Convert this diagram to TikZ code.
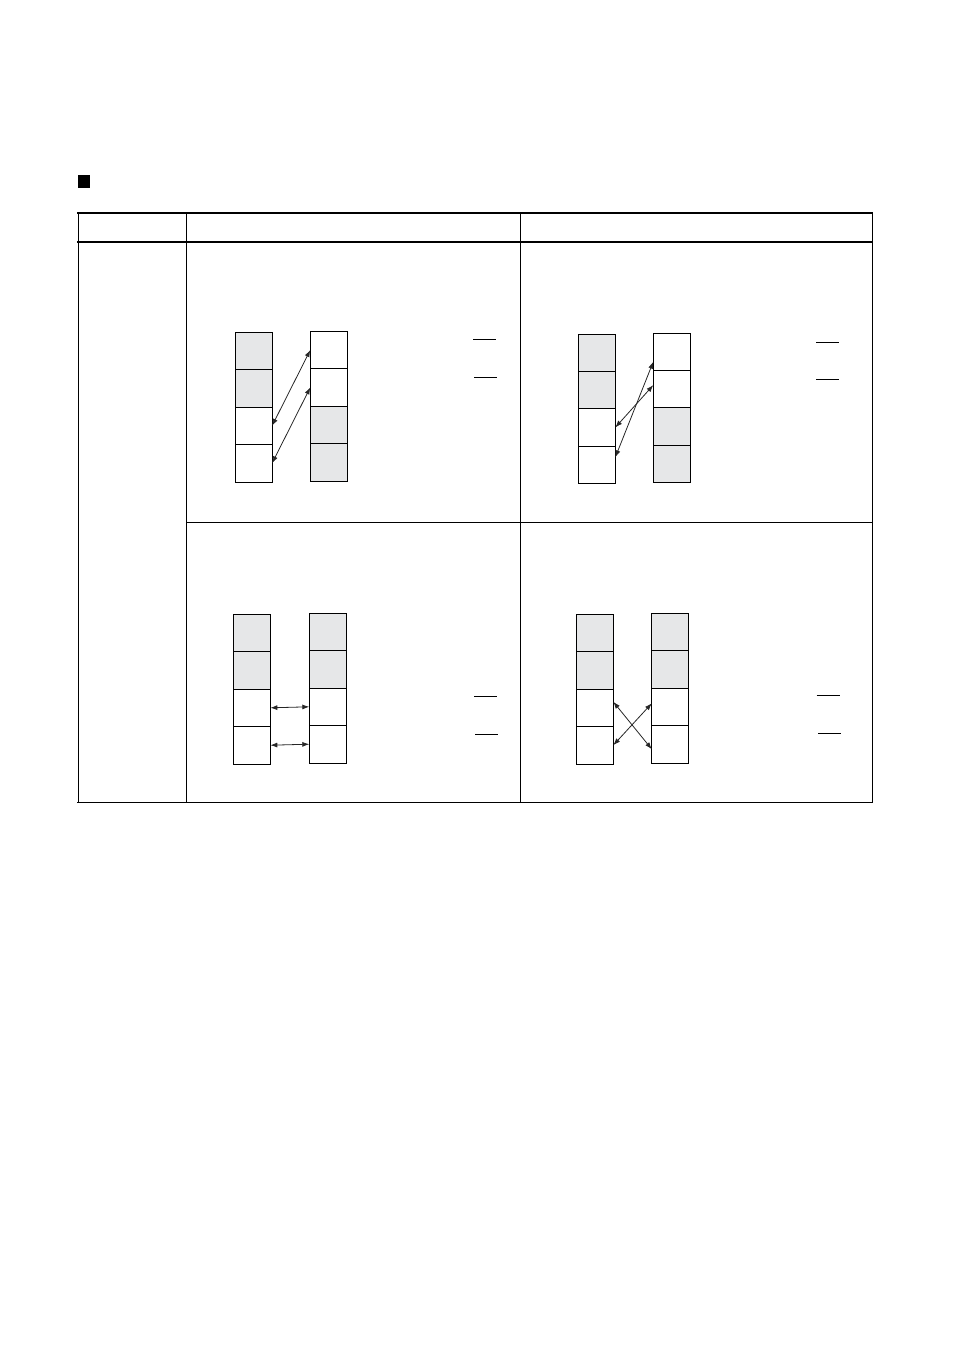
\documentclass[tikz,border=0pt]{standalone}
\usetikzlibrary{positioning,arrows.meta}

\definecolor{cellgray}{RGB}{230,231,232}
\tikzset{
  cell/.style={draw,line width=0.8pt,minimum width=37pt,minimum height=37.4pt,inner sep=0pt,outer sep=0pt},
  link/.style={line width=0.8pt,draw=black!85,{Latex[length=7pt,width=5pt]}-{Latex[length=7pt,width=5pt]}},
  thinrule/.style={line width=0.9pt},
  thickrule/.style={line width=1.7pt},
  bar/.style={line width=0.8pt}
}

\begin{document}
\begin{tikzpicture}[x=1pt,y=-1pt]
   \useasboundingbox (0,0) rectangle (954,1350);
   % heading mark
   \fill (78,175) rectangle (90,188);
   % table frame
   \draw[thickrule] (77.2,213) -- (872.8,213);
   \draw[thickrule] (77.2,242) -- (872.8,242);
   \draw[thickrule] (77.2,802.5) -- (872.8,802.5);
   \draw[thinrule] (78,213) -- (78,802.5)
                   (186.5,213) -- (186.5,802.5)
                   (520,213) -- (520,802.5)
                   (872,213) -- (872,802.5);
   \draw[thinrule] (186.5,522.3) -- (872,522.3);

   % upper left
   \foreach \f [count=\i] in {cellgray,cellgray,white,white}
     \node[cell,fill=\f] (p1l\i) at (253.6,{351+37.4*(\i-1)}) {};
   \foreach \f [count=\i] in {white,white,cellgray,cellgray}
     \node[cell,fill=\f] (p1r\i) at (328.8,{350+37.4*(\i-1)}) {};
   \draw[link] (p1l3.east) -- (p1r1.west);
   \draw[link] (p1l4.east) -- (p1r2.west);
   \draw[bar] (473,339.3) -- (496,339.3);
   \draw[bar] (474,377.3) -- (496.7,377.3);

   % upper right
   \foreach \f [count=\i] in {cellgray,cellgray,white,white}
     \node[cell,fill=\f] (p2l\i) at (596.8,{352.7+37.4*(\i-1)}) {};
   \foreach \f [count=\i] in {white,white,cellgray,cellgray}
     \node[cell,fill=\f] (p2r\i) at (671.8,{351.7+37.4*(\i-1)}) {};
   \draw[link] (p2l3.east) -- ([yshift=4pt]p2r2.west);
   \draw[link] ([yshift=7.6pt]p2l4.east) -- ([yshift=-10pt]p2r1.west);
   \draw[bar] (816,342.3) -- (838.7,342.3);
   \draw[bar] (816,379.3) -- (838.7,379.3);

   % lower left
   \foreach \f [count=\i] in {cellgray,cellgray,white,white}
     \node[cell,fill=\f] (p3l\i) at (251.8,{633+37.4*(\i-1)}) {};
   \foreach \f [count=\i] in {cellgray,cellgray,white,white}
     \node[cell,fill=\f] (p3r\i) at (327.8,{632+37.4*(\i-1)}) {};
   \draw[link] (p3l3.east) -- (p3r3.west);
   \draw[link] (p3l4.east) -- (p3r4.west);
   \draw[bar] (474,696.3) -- (496.7,696.3);
   \draw[bar] (475,734.3) -- (498,734.3);

   % lower right
   \foreach \f [count=\i] in {cellgray,cellgray,white,white}
     \node[cell,fill=\f] (p4l\i) at (594.8,{633+37.4*(\i-1)}) {};
   \foreach \f [count=\i] in {cellgray,cellgray,white,white}
     \node[cell,fill=\f] (p4r\i) at (670.3,{632+37.4*(\i-1)}) {};
   \draw[link] ([yshift=6pt]p4l3.east) -- ([yshift=-5pt]p4r4.west);
   \draw[link] (p4l4.east) -- ([yshift=3.5pt]p4r3.west);
   \draw[bar] (816.7,695.3) -- (840,695.3);
   \draw[bar] (818,733.3) -- (841,733.3);
\end{tikzpicture}
\end{document}
